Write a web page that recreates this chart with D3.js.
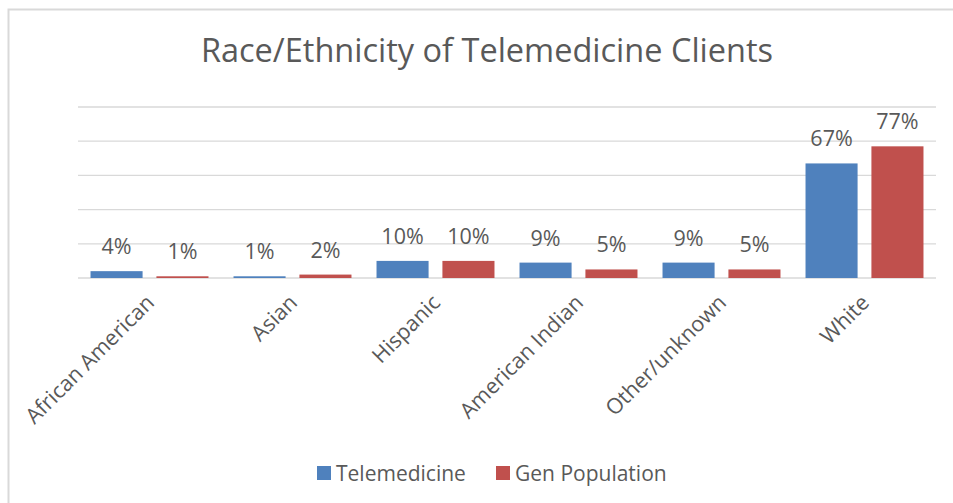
<!DOCTYPE html>
<html>
<head>
<meta charset="utf-8">
<script src="https://cdn.jsdelivr.net/npm/d3@7"></script>
<style>
  body { margin: 0; background: #fff; }
  text { font-family: "Open Sans", sans-serif; fill: #595959; }
</style>
</head>
<body>
<div id="chart"></div>
<script>
var svgWidth = 953;
var svgHeight = 503;

// chart data
var categories = ["African American", "Asian", "Hispanic", "American Indian", "Other/unknown", "White"];
var seriesNames = ["Telemedicine", "Gen Population"];
var telemedicine = [4, 1, 10, 9, 9, 67];
var genPopulation = [1, 2, 10, 5, 5, 77];
var yTicks = [0, 20, 40, 60, 80, 100];

var colors = ["#4F81BD", "#C0504D"];

var margin = { top: 107, right: 17, bottom: 225, left: 78 };
var width = svgWidth - margin.left - margin.right;
var height = svgHeight - margin.top - margin.bottom;

var svg = d3.select("#chart")
    .append("svg")
    .attr("width", svgWidth)
    .attr("height", svgHeight);

// outer frame (only top and left edges show in the crop)
svg.append("path")
    .attr("d", "M8.5,503 V9.5 H953")
    .attr("fill", "none")
    .attr("stroke", "#d9d9d9")
    .attr("stroke-width", 2);

svg.append("text")
    .attr("x", 487)
    .attr("y", 62)
    .attr("text-anchor", "middle")
    .attr("font-size", 32.5)
    .text("Race/Ethnicity of Telemedicine Clients");

var chartGroup = svg.append("g")
    .attr("transform", `translate(${margin.left}, ${margin.top})`);

var x0 = d3.scaleBand()
    .domain(categories)
    .range([0, width])
    .padding(0);

var x1 = d3.scaleBand()
    .domain(seriesNames)
    .range([0, x0.bandwidth()])
    .paddingInner(0.21)
    .paddingOuter(0.19);

var yScale = d3.scaleLinear()
    .domain([0, 100])
    .range([height, 0]);

// gridlines
chartGroup.append("g")
    .selectAll("line")
    .data(yTicks)
    .enter()
    .append("line")
    .attr("x1", 0)
    .attr("x2", width)
    .attr("y1", d => yScale(d))
    .attr("y2", d => yScale(d))
    .attr("stroke", "#d9d9d9")
    .attr("stroke-width", 1.3);

var rows = categories.map(function(c, i) {
    return { cat: c, values: [telemedicine[i], genPopulation[i]] };
});

var groups = chartGroup.selectAll(".grp")
    .data(rows)
    .enter()
    .append("g")
    .attr("class", "grp")
    .attr("transform", d => `translate(${x0(d.cat)}, 0)`);

var bars = groups.selectAll("g")
    .data(d => d.values.map((v, j) => ({ name: seriesNames[j], value: v, j: j })))
    .enter()
    .append("g");

bars.append("rect")
    .attr("x", d => x1(d.name))
    .attr("width", x1.bandwidth())
    .attr("y", d => yScale(d.value))
    .attr("height", d => height - yScale(d.value))
    .attr("fill", d => colors[d.j]);

// data labels
bars.append("text")
    .attr("x", d => x1(d.name) + x1.bandwidth() / 2)
    .attr("y", d => yScale(d.value) - 17)
    .attr("text-anchor", "middle")
    .attr("font-size", 21.5)
    .text(d => d.value + "%");

// category labels, rotated
chartGroup.append("g")
    .selectAll("text")
    .data(categories)
    .enter()
    .append("text")
    .attr("text-anchor", "end")
    .attr("font-size", 21.5)
    .attr("transform", d => `translate(${x0(d) + x0.bandwidth() / 2 + 6}, ${height + 26}) rotate(-45)`)
    .text(d => d);

// legend
var legend = svg.append("g")
    .attr("transform", "translate(317, 473)");

var legendX = [0, 179];
seriesNames.forEach(function(name, j) {
    var item = legend.append("g")
        .attr("transform", `translate(${legendX[j]}, 0)`);
    item.append("rect")
        .attr("x", 0)
        .attr("y", -7)
        .attr("width", 14)
        .attr("height", 14)
        .attr("fill", colors[j]);
    item.append("text")
        .attr("x", 19)
        .attr("y", 7.5)
        .attr("font-size", 21)
        .text(name);
});
</script>
</body>
</html>
